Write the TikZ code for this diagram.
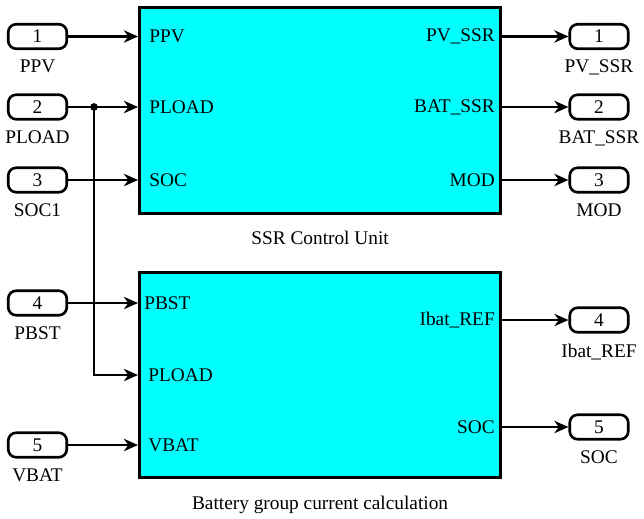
\documentclass[tikz,border=0pt]{standalone}
\usepackage{fontspec}
\setmainfont{Liberation Serif}
\usetikzlibrary{positioning,arrows.meta}
\definecolor{blockfill}{HTML}{00FFFF}

\begin{document}
\begin{tikzpicture}[x=0.02cm, y=-0.02cm, line width=1.5pt,
    font=\fontsize{11}{13}\selectfont,
    port/.style={draw, rounded corners=4.5pt, minimum width=1.17cm, minimum height=0.49cm, inner sep=0pt},
    portname/.style={inner sep=0pt},
    block/.style={draw, fill=blockfill, line width=1.8pt, anchor=north west, minimum width=7.22cm, inner sep=0pt},
    inname/.style={anchor=west, inner ysep=0pt, inner xsep=0.2cm},
    outname/.style={anchor=east, inner ysep=0pt, inner xsep=0.12cm},
    sig/.style={-{Stealth[length=8pt, width=7pt, inset=2.5pt]}}]

    % Fix picture size
    \useasboundingbox (0,0) rectangle (644,518);

    % Subsystem blocks
    \node[block, minimum height=4.12cm] (ssr) at (138,6) {};
    \node[block, minimum height=4.1cm] (bgc) at (138,271) {};
    \node[portname, below=8.5pt of ssr] (ssrcap) {SSR Control Unit};
    \node[portname, below=9pt of bgc] (bgccap) {Battery group current calculation};

    % Inports
    \node[port] (in1) at (37.5,36.5) {1};
    \node[port] (in2) at (37.5,107) {2};
    \node[port] (in3) at (37.5,180) {3};
    \node[port] (in4) at (37.5,303) {4};
    \node[port] (in5) at (37.5,445) {5};
    \node[portname, below=5pt of in1] (in1name) {PPV};
    \node[portname, below=5pt of in2] (in2name) {PLOAD};
    \node[portname, below=5pt of in3] (in3name) {SOC1};
    \node[portname, below=5pt of in4] (in4name) {PBST};
    \node[portname, below=5pt of in5] (in5name) {VBAT};

    % Outports
    \node[port] (out1) at (599,36.5) {1};
    \node[port] (out2) at (599,107) {2};
    \node[port] (out3) at (599,180) {3};
    \node[port] (out4) at (599,320) {4};
    \node[port] (out5) at (599,427) {5};
    \node[portname, below=5pt of out1] (out1name) {PV\_SSR};
    \node[portname, below=5pt of out2] (out2name) {BAT\_SSR};
    \node[portname, below=5pt of out3] (out3name) {MOD};
    \node[portname, below=5pt of out4] (out4name) {Ibat\_REF};
    \node[portname, below=5pt of out5] (out5name) {SOC};

    % Block port labels
    \node[inname] (ssrppv) at (ssr.west |- in1.east) {PPV};
    \node[inname] (ssrpload) at (ssr.west |- in2.east) {PLOAD};
    \node[inname] (ssrsoc) at (ssr.west |- in3.east) {SOC};
    \node[outname] (ssrpv) at (ssr.east |- out1.west) {PV\_SSR};
    \node[outname] (ssrbat) at (ssr.east |- out2.west) {BAT\_SSR};
    \node[outname] (ssrmod) at (ssr.east |- out3.west) {MOD};
    \node[inname, inner xsep=0.1cm] (bgcpbst) at (bgc.west |- in4.east) {PBST};
    \node[inname, inner xsep=0.18cm] (bgcpload) at (138,375) {PLOAD};
    \node[inname, inner xsep=0.18cm] (bgcvbat) at (bgc.west |- in5.east) {VBAT};
    \node[outname] (bgcibat) at (bgc.east |- out4.west) {Ibat\_REF};
    \node[outname] (bgcsoc) at (bgc.east |- out5.west) {SOC};

    % Signal lines
    \draw[sig] (in1) -- (ssrppv.west);
    \draw[sig] (in2) -- (ssrpload.west);
    \draw[sig] (in3) -- (ssrsoc.west);
    \draw[sig] (in4) -- (bgcpbst.west);
    \draw[sig] (in5) -- (bgcvbat.west);
    \coordinate (split) at (94,107);
    \draw[sig] (split) |- (bgcpload.west);
    \fill (split) circle (2.2pt);

    \draw[sig] (ssrpv.east) -- (out1);
    \draw[sig] (ssrbat.east) -- (out2);
    \draw[sig] (ssrmod.east) -- (out3);
    \draw[sig] (bgcibat.east) -- (out4);
    \draw[sig] (bgcsoc.east) -- (out5);

\end{tikzpicture}
\end{document}
